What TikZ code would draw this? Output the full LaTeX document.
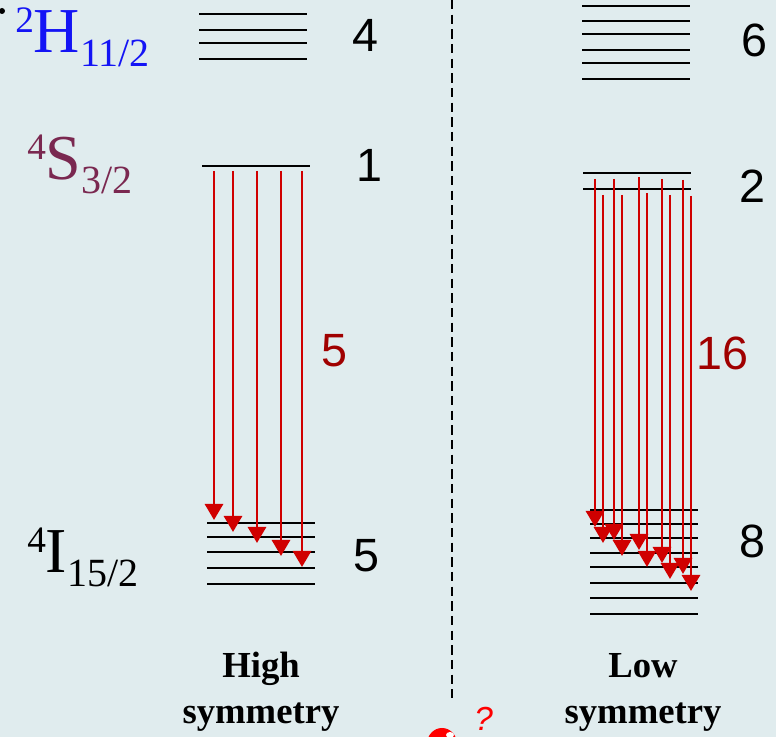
\documentclass[tikz,border=0pt]{standalone}
\usepackage{fontspec}
\setmainfont{Liberation Serif}
\newfontfamily\numfont{Liberation Sans}
\usetikzlibrary{arrows.meta}

\definecolor{panelbg}{RGB}{224,236,238}
\definecolor{termblue}{RGB}{20,20,245}
\definecolor{termmaroon}{RGB}{122,40,80}
\definecolor{decayred}{RGB}{208,0,0}
\definecolor{countred}{RGB}{160,0,0}

% term symbol: superscript, letter, subscript
\newcommand{\termsym}[3]{{\fontsize{48}{48}\selectfont
  {\fontsize{28}{28}\selectfont\raisebox{15pt}{#1}}#2{\fontsize{30}{30}\selectfont\raisebox{-10.5pt}{#3}}}}

\tikzset{
  level/.style={line width=1.5pt, black},
  decay/.style={line width=2.2pt, decayred, -{Triangle[width=13.5pt,length=12pt]}},
  count/.style={anchor=base west, inner sep=0, font=\numfont\fontsize{35}{35}\selectfont},
  symlabel/.style={align=center, inner sep=0, font=\bfseries\fontsize{27.5}{34.5}\selectfont},
}

\begin{document}
\begin{tikzpicture}[x=0.75pt, y=-0.75pt]
    % Background
    \fill[panelbg] (0,0) rectangle (776,737);
    \useasboundingbox (0,0) rectangle (776,737);
    % Term labels
    \node[anchor=base west, inner sep=0, text=termblue] (h112) at (15,53) {\termsym{2}{H}{11/2}};
    \node[anchor=base west, inner sep=0, text=termmaroon] (s32) at (27,180) {\termsym{4}{S}{3/2}};
    \node[anchor=base west, inner sep=0] (i152) at (27,573) {\termsym{4}{I}{15/2}};
    % Separator
    \draw[line width=1.5pt, dash pattern=on 7pt off 4pt] (452,0) -- (452,698);
    % High symmetry levels
    \foreach \y in {14,30,43,59} \draw[level] (199,\y) -- (307,\y);
    \draw[level] (202,166) -- (310,166);
    \foreach \y in {523,537,552,568,584} \draw[level] (207,\y) -- (315,\y);
    % Low symmetry levels
    \foreach \y in {6,21,34,50,63,79} \draw[level] (582,\y) -- (690,\y);
    \foreach \y in {173,189} \draw[level] (583,\y) -- (691,\y);
    \foreach \y in {510,524,538,553,567,583,598,614} \draw[level] (590,\y) -- (698,\y);
    % Level counts
    \node[count] (n4) at (352,52) {4};
    \node[count] (n1) at (356,182) {1};
    \node[count] (n5) at (353,572) {5};
    \node[count] (n6) at (741,57) {6};
    \node[count] (n2) at (739,203) {2};
    \node[count] (n8) at (739,558) {8};
    \node[count, text=countred] (nhs) at (321,367) {5};
    \node[count, text=countred] (nls) at (696,370) {16};
    % Transitions, high symmetry
    \foreach \x/\yb [count=\i] in {214/520,233/532,257/543,281/556,302/567} {
      \coordinate (hs-top-\i) at (\x,171);
      \coordinate (hs-bot-\i) at (\x,\yb);
      \draw[decay] (hs-top-\i) -- (hs-bot-\i);
    }
    % Transitions, low symmetry
    \foreach \x/\ya/\yb [count=\i] in {595/179/527,603/195/543,614/179/540,622/195/556,639/177/550,
                                      647/193/567,662/179/563,670/195/579,683/180/574,691/196/591} {
      \coordinate (ls-top-\i) at (\x,\ya);
      \coordinate (ls-bot-\i) at (\x,\yb);
      \draw[decay] (ls-top-\i) -- (ls-bot-\i);
    }
    % Captions
    \node[symlabel] (high) at (261,692) {High\\symmetry};
    \node[symlabel] (low) at (643,692) {Low\\symmetry};
    % Clipped clip-art bits
    \fill[black] (2,11) circle (3);
    \fill[red] (442,744) ellipse (15 and 16);
    \fill[white] (450,735) ellipse (4 and 3);
    \node[anchor=base west, inner sep=0, text=red, font=\numfont\itshape\fontsize{25}{25}\selectfont] (qmark) at (474,731) {?};
\end{tikzpicture}
\end{document}
